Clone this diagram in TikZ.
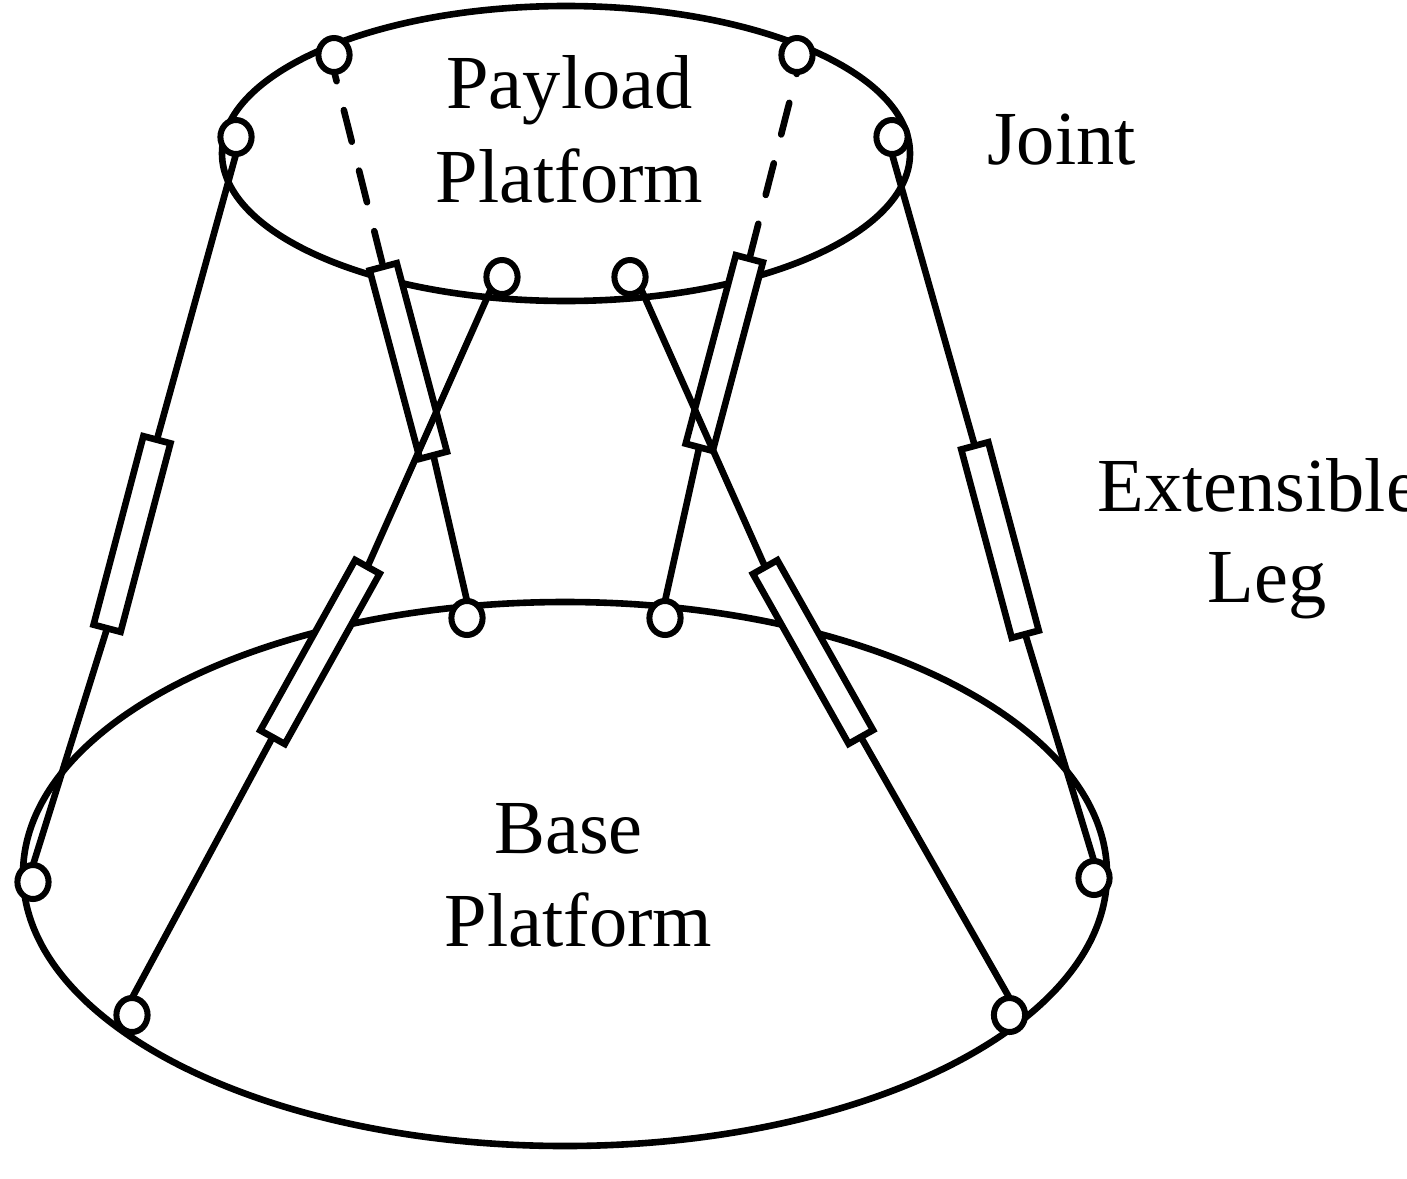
\documentclass[tikz,border=0pt]{standalone}
\usepackage{fontspec}
\usetikzlibrary{shapes.geometric}
\setmainfont{Liberation Serif}
\pgfdeclarelayer{under}
\pgfsetlayers{under,main}
\tikzset{
  link/.style={line width=3.3pt},
  plate/.style={draw,line width=3.3pt},
  hiddenlink/.style={line width=3.3pt,line cap=round,dash pattern=on 16.3pt off 14.9pt},
  joint/.style={ellipse,draw,fill=white,line width=3pt,minimum width=15.6pt,minimum height=17pt,inner sep=0pt,outer sep=0pt},
  sleeve/.style={rectangle,draw,fill=white,line width=3.3pt,minimum width=97.5pt,minimum height=14pt,inner sep=0pt,outer sep=0pt},
  label/.style={anchor=base,inner sep=0pt,font=\fontsize{38.2}{47}\selectfont}
}
\begin{document}
\begin{tikzpicture}[x=0.5pt,y=-0.5pt]
\useasboundingbox (0,0) rectangle (1407,1178);
% joints on the top layer
\node[joint] (J1) at (236,137) {};
\node[joint] (J2) at (334,55) {};
\node[joint] (J3) at (797,55) {};
\node[joint] (J4) at (892,137) {};
\node[joint] (J5) at (502,277) {};
\node[joint] (J6) at (630,277) {};
\node[joint] (B1) at (33,882) {};
\node[joint] (B2) at (467,618) {};
\node[joint] (B3) at (665,618) {};
\node[joint] (B4) at (1094,878) {};
\node[joint] (B5) at (132,1015) {};
\node[joint] (B6) at (1009.5,1015) {};
\coordinate (D2) at (330,55);
\coordinate (D3) at (801.5,55);
\begin{pgfonlayer}{under}
\fill[white] (0,0) rectangle (1407,1178);
% platforms
\draw[plate] (566,153.5) ellipse [x radius=344,y radius=147.5];
\draw[plate] (565,874) ellipse [x radius=542,y radius=272];
% back legs
\node[sleeve,rotate=-75.1] (L2) at (408.3,361) {};
\node[sleeve,rotate=75.1] (L3) at (724.3,353) {};
\draw[hiddenlink,dash phase=2.8pt] (D2) -- (L2.west);
\draw[hiddenlink,dash phase=6.5pt] (D3) -- (L3.east);
\draw[link] (L2.east) -- (B2.north);
\draw[link] (L3.west) -- (B3.north);
% outer legs
\node[sleeve,rotate=75.2] (L1) at (132,534) {};
\node[sleeve,rotate=-75] (L4) at (1000,540) {};
\draw[link] (J1.south) -- (L1.east);
\draw[link] (L1.west) -- (B1.north);
\draw[link] (J4.south) -- (L4.west);
\draw[link] (L4.east) -- (B4.north);
% front legs
\node[sleeve,rotate=60.9] (L5) at (320,652) {};
\node[sleeve,rotate=-60.6] (L6) at (813,652) {};
\draw[link] (J5.south west) -- (L5.east);
\draw[link] (L5.west) -- (B5.north);
\draw[link] (J6.south east) -- (L6.west);
\draw[link] (L6.east) -- (B6.north);
\end{pgfonlayer}
% labels
\node[label] (payloadA) at (569.5,108) {Payload};
\node[label] (payloadB) at (569.5,202) {Platform};
\node[label] (baseA) at (568.5,853) {Base};
\node[label] (baseB) at (578.5,946) {Platform};
\node[label] (jointlabel) at (1061.5,164) {Joint};
\node[label,anchor=base west] (legA) at (1097,511) {Extensible};
\node[label] (legB) at (1267,602) {Leg};
\end{tikzpicture}
\end{document}
